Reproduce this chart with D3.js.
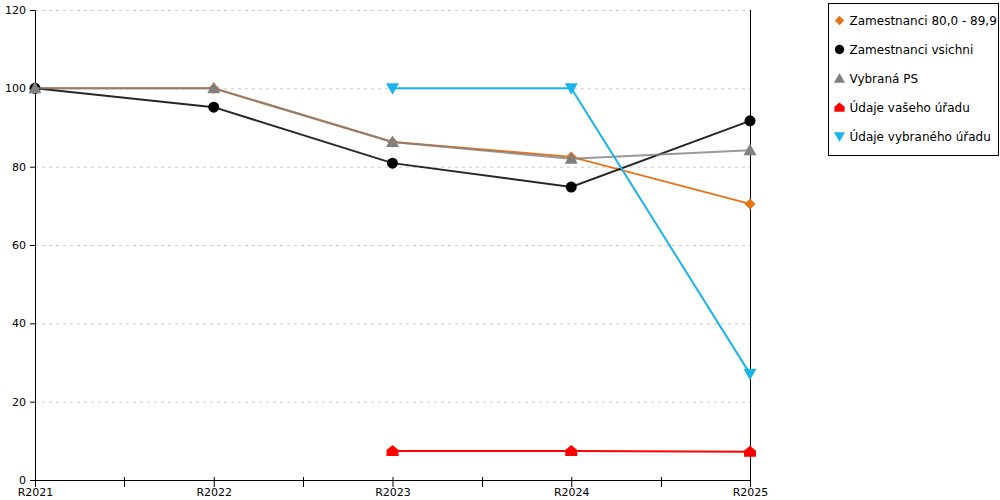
<!DOCTYPE html>
<html>
<head>
<meta charset="utf-8">
<script src="https://cdn.jsdelivr.net/npm/d3@7"></script>
<style>
  body { margin: 0; background: #fff; }
  text { font-family: "DejaVu Sans", Verdana, sans-serif; }
</style>
</head>
<body>
<svg id="chart" width="1000" height="500"></svg>
<script>
const years = ["R2021", "R2022", "R2023", "R2024", "R2025"];
const yTicks = [0, 20, 40, 60, 80, 100, 120];

// null = no value for that year
const zam80 = [100, 100, 86.3, 82.5, 70.5];
const zamAll = [100, 95.2, 80.9, 74.8, 91.7];
const vybranaPS = [100, 100, 86.3, 82.0, 84.2];
const vasUrad = [null, null, 7.4, 7.4, 7.2];
const vybranyUrad = [null, null, 100, 100, 27.1];

const series = [
  { name: "Zamestnanci 80,0 - 89,9", values: zam80, color: "#e8731a", shape: "diamond", opacity: 1 },
  { name: "Zamestnanci vsichni", values: zamAll, color: "#000000", shape: "circle", opacity: 0.85 },
  { name: "Vybraná PS", values: vybranaPS, color: "#808080", shape: "triangle", opacity: 0.8 },
  { name: "Údaje vašeho úřadu", values: vasUrad, color: "#ff0000", shape: "house", opacity: 1 },
  { name: "Údaje vybraného úřadu", values: vybranyUrad, color: "#1ab4ec", shape: "triangleDown", opacity: 1 }
];

const svg = d3.select("#chart");
const margin = { left: 35, right: 250, top: 10, bottom: 20 };
const width = 1000 - margin.left - margin.right;
const height = 500 - margin.top - margin.bottom;

const x = d3.scalePoint().domain(years).range([0, width]);
const y = d3.scaleLinear().domain([0, 120]).range([height, 0]);

const g = svg.append("g").attr("transform", `translate(${margin.left},${margin.top})`);

// grid
g.append("g")
  .selectAll("line")
  .data(yTicks.filter((d) => d > 0))
  .join("line")
  .attr("x1", 0)
  .attr("x2", width)
  .attr("y1", (d) => y(d) + 0.5)
  .attr("y2", (d) => y(d) + 0.5)
  .attr("stroke", "#c8c8c8")
  .attr("stroke-dasharray", "3,4");

// y axis
const yAxis = g.append("g")
  .call(d3.axisLeft(y).tickValues(yTicks).tickSize(5).tickSizeOuter(0));
yAxis.selectAll("text").attr("font-size", 11).attr("fill", "#000").attr("dx", "-1");
yAxis.selectAll("line, path").attr("stroke", "#000");

// right border line
g.append("line")
  .attr("x1", width + 0.5)
  .attr("x2", width + 0.5)
  .attr("y1", 0)
  .attr("y2", height)
  .attr("stroke", "#000");

// x axis
const xAxis = g.append("g")
  .attr("transform", `translate(0,${height})`)
  .call(d3.axisBottom(x).tickSize(7).tickSizeOuter(0));
xAxis.select("path").attr("stroke", "#000");
xAxis.selectAll("line").attr("stroke", "#000").attr("y1", -3);
xAxis.selectAll("text").attr("font-size", 11).attr("fill", "#000").attr("dy", "0.5em");

// minor ticks between categories
const mids = d3.pairs(years).map(([a, b]) => (x(a) + x(b)) / 2);
xAxis.append("g")
  .selectAll("line")
  .data(mids)
  .join("line")
  .attr("x1", (d) => Math.round(d) + 0.5)
  .attr("x2", (d) => Math.round(d) + 0.5)
  .attr("y1", -3)
  .attr("y2", 7)
  .attr("stroke", "#000");

function symbolPath(shape) {
  switch (shape) {
    case "diamond":
      return "M0,-5.5L5.5,0L0,5.5L-5.5,0Z";
    case "circle":
      return d3.symbol(d3.symbolCircle, 95)();
    case "triangle":
      return "M0,-6.5L6.5,5L-6.5,5Z";
    case "triangleDown":
      return "M-6.5,-5L6.5,-5L0,6.5Z";
    case "house":
      return "M0,-6L6,-1L6,5L-6,5L-6,-1Z";
  }
}

const line = d3.line()
  .defined((d) => d.v != null)
  .x((d) => x(d.year))
  .y((d) => y(d.v));

series.forEach((s) => {
  const pts = s.values.map((v, i) => ({ year: years[i], v }));
  const sg = g.append("g").attr("class", "series");

  sg.append("path")
    .datum(pts)
    .attr("d", line)
    .attr("fill", "none")
    .attr("stroke", s.color)
    .attr("stroke-opacity", s.opacity)
    .attr("stroke-width", 2);

  sg.selectAll("path.marker")
    .data(pts.filter((d) => d.v != null))
    .join("path")
    .attr("class", "marker")
    .attr("transform", (d) => `translate(${x(d.year)},${y(d.v)})`)
    .attr("d", symbolPath(s.shape))
    .attr("fill", s.color);
});

// legend
const legend = svg.append("g").attr("transform", "translate(828.5,3.5)");
legend.append("rect")
  .attr("width", 170)
  .attr("height", 152)
  .attr("fill", "#fff")
  .attr("stroke", "#000");

const items = legend.selectAll("g.item")
  .data(series)
  .join("g")
  .attr("class", "item")
  .attr("transform", (d, i) => `translate(11,${17 + i * 29})`);

items.append("path")
  .attr("d", (d) => symbolPath(d.shape))
  .attr("transform", "scale(0.85)")
  .attr("fill", (d) => d.color);

items.append("text")
  .attr("x", 10)
  .attr("dy", "0.35em")
  .attr("font-size", 12)
  .attr("fill", "#000")
  .text((d) => d.name);
</script>
</body>
</html>
